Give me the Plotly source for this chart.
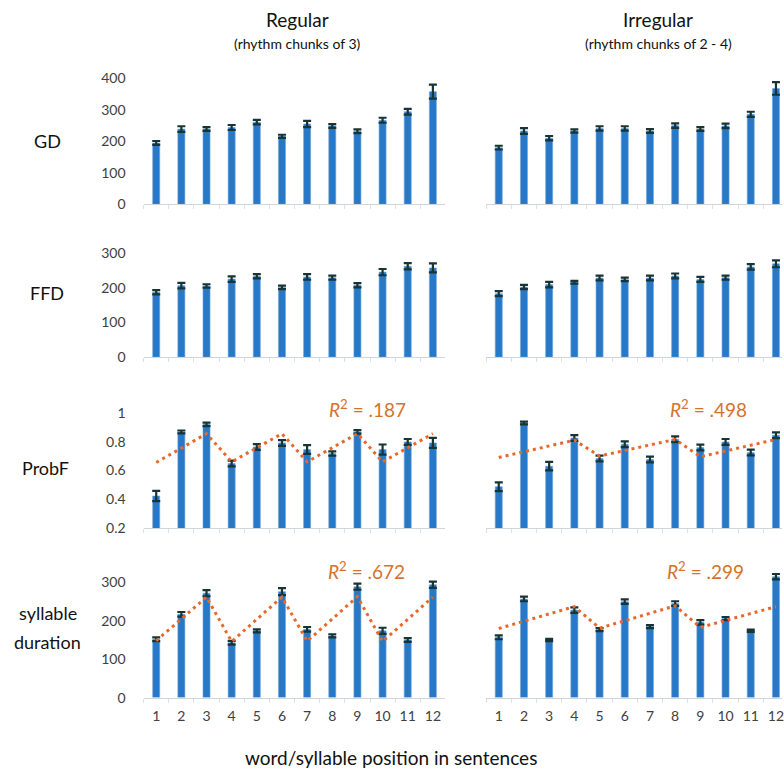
import plotly.graph_objects as go

positions = [str(i) for i in range(1, 13)]

gd_regular = [195, 239, 239, 244, 261, 216, 255, 249, 232, 267, 294, 358]
gd_regular_err = [6, 9, 6, 8, 7, 5, 10, 6, 6, 8, 9, 22]
gd_irregular = [180, 233, 210, 233, 241, 241, 233, 250, 239, 249, 286, 368]
gd_irregular_err = [6, 9, 7, 5, 7, 7, 6, 7, 6, 7, 8, 20]

ffd_regular = [187, 206, 205, 225, 233, 201, 231, 229, 207, 245, 262, 257]
ffd_regular_err = [6, 8, 5, 8, 6, 5, 8, 6, 6, 9, 9, 13]
ffd_irregular = [183, 202, 209, 216, 228, 224, 228, 234, 224, 229, 260, 269]
ffd_irregular_err = [7, 6, 8, 4, 7, 5, 7, 7, 7, 6, 8, 10]

probf_regular = [0.423, 0.867, 0.92, 0.648, 0.763, 0.791, 0.745, 0.717, 0.867, 0.745, 0.798, 0.791]
probf_regular_err = [0.035, 0.01, 0.012, 0.02, 0.02, 0.02, 0.03, 0.015, 0.012, 0.035, 0.02, 0.035]
probf_irregular = [0.487, 0.929, 0.63, 0.825, 0.683, 0.782, 0.676, 0.816, 0.759, 0.798, 0.724, 0.844]
probf_irregular_err = [0.03, 0.01, 0.03, 0.02, 0.02, 0.02, 0.02, 0.02, 0.02, 0.02, 0.02, 0.02]
probf_regular_fit = [0.655, 0.755, 0.855, 0.66, 0.76, 0.855, 0.66, 0.76, 0.855, 0.66, 0.76, 0.855]
probf_irregular_fit = [0.69, 0.73, 0.77, 0.81, 0.70, 0.74, 0.78, 0.815, 0.695, 0.735, 0.775, 0.815]

sd_regular = [152, 217, 272, 143, 174, 276, 178, 161, 289, 174, 150, 294]
sd_regular_err = [5, 6, 8, 5, 4, 9, 6, 4, 8, 8, 5, 8]
sd_irregular = [157, 257, 150, 228, 177, 250, 185, 245, 196, 206, 174, 315]
sd_irregular_err = [5, 6, 3, 7, 4, 6, 4, 6, 6, 4, 3, 7]
sd_regular_fit = [148, 205, 262, 146, 204, 262, 147, 205, 263, 146, 204, 262]
sd_irregular_fit = [180, 199, 218, 237, 181, 200, 220, 239, 183, 201, 219, 237]

r2_labels = [".187", ".498", ".672", ".299"]
row_labels = ["GD", "FFD", "ProbF", "syllable", "duration"]

BLUE = "#2878C8"
ERR = "#183434"
ORANGE = "#E8682A"
ORANGE_TXT = "#D4732C"
FONT = "Lato"
TICKC = "#404040"

W, H = 784, 780
REF_H = 771

def px(x):
    return x / W

def py(y):
    # positions are given in reference-image pixels
    return 1 - y / REF_H

x_dom = [[px(144), px(446.6)], [px(487.4), 1.0]]
x_rng = [[-0.5, 11.5], [-0.5, 11.24]]
row_dom = [[py(204), py(62.6)], [py(356.7), py(242.3)], [py(527.5), py(400.7)], [py(696.7), py(570.2)]]
row_rng = [[0, 450], [0, 330], [0.2, 1.08], [0, 330]]
row_ticks = [[0, 100, 200, 300, 400], [0, 100, 200, 300], [0.2, 0.4, 0.6, 0.8, 1.0], [0, 100, 200, 300]]
row_ticktext = [None, None, ["0.2", "0.4", "0.6", "0.8", "1"], None]

data = [
    [(gd_regular, gd_regular_err, None), (gd_irregular, gd_irregular_err, None)],
    [(ffd_regular, ffd_regular_err, None), (ffd_irregular, ffd_irregular_err, None)],
    [(probf_regular, probf_regular_err, probf_regular_fit), (probf_irregular, probf_irregular_err, probf_irregular_fit)],
    [(sd_regular, sd_regular_err, sd_regular_fit), (sd_irregular, sd_irregular_err, sd_irregular_fit)],
]

fig = go.Figure()
layout = {}
idx = 0
for r in range(4):
    for c in range(2):
        idx += 1
        xa = "x" if idx == 1 else f"x{idx}"
        ya = "y" if idx == 1 else f"y{idx}"
        vals, errs, fit = data[r][c]
        fig.add_trace(go.Bar(
            x=positions, y=vals, xaxis=xa, yaxis=ya, width=0.28,
            marker=dict(color=BLUE, line=dict(color="#6FA6DA", width=0.6)),
            error_y=dict(type="data", array=errs, color=ERR, thickness=2.2, width=4),
            showlegend=False, hoverinfo="skip",
        ))
        if fit is not None:
            fig.add_trace(go.Scatter(
                x=positions, y=fit, xaxis=xa, yaxis=ya, mode="lines",
                line=dict(color=ORANGE, width=3, dash="3px,4px"),
                showlegend=False, hoverinfo="skip",
            ))
        bottom = (r == 3)
        layout[f"xaxis{idx}"] = dict(
            domain=x_dom[c], range=x_rng[c], anchor=ya, type="category",
            showline=True, linecolor="#D0D5DA", linewidth=1.2,
            ticks="outside", tickson="boundaries", ticklen=4, tickcolor="#DDE1E5",
            showticklabels=bottom, showgrid=False, zeroline=False, tickangle=0,
            ticklabelstandoff=5,
            tickfont=dict(family=FONT, size=14, color=TICKC),
        )
        layout[f"yaxis{idx}"] = dict(
            domain=row_dom[r], range=row_rng[r], anchor=xa,
            showline=False, showgrid=False, zeroline=False,
            tickvals=row_ticks[r], ticktext=row_ticktext[r],
            showticklabels=(c == 0), ticks="", ticklabelstandoff=17,
            tickfont=dict(family=FONT, size=14, color=TICKC),
        )

annotations = []
def txt(x, y, s, size, color="#111111", **kw):
    annotations.append(dict(x=px(x), y=py(y), xref="paper", yref="paper", text=s,
                            showarrow=False, font=dict(family=FONT, size=size, color=color),
                            xanchor="center", yanchor="middle", **kw))

txt(298, 19, "Regular", 19)
txt(298, 43, "(rhythm chunks of 3)", 14)
txt(660, 19, "Irregular", 19)
txt(660, 43, "(rhythm chunks of 2 - 4)", 14)
txt(48, 141, row_labels[0], 18)
txt(47, 293, row_labels[1], 18)
txt(46, 467, row_labels[2], 18)
txt(48, 612, row_labels[3], 18)
txt(48, 641, row_labels[4], 18)
txt(392, 757, "word/syllable position in sentences", 19)

r2_pos = [(368, 408), (710, 408), (367, 570), (707, 570)]
for (x, y), lab in zip(r2_pos, r2_labels):
    txt(x, y, f"<i>R</i><sup>2</sup> = {lab}", 19, ORANGE_TXT)

layout["annotations"] = annotations
fig.update_layout(**layout)
fig.update_layout(
    width=W, height=H, margin=dict(l=0, r=0, t=0, b=0),
    paper_bgcolor="white", plot_bgcolor="white", bargap=0.7,
)

page_fix = (
    "document.documentElement.style.margin='0';"
    "document.body.style.margin='0';"
)
fig.write_html("out.html", config={"displayModeBar": False}, post_script=page_fix)
